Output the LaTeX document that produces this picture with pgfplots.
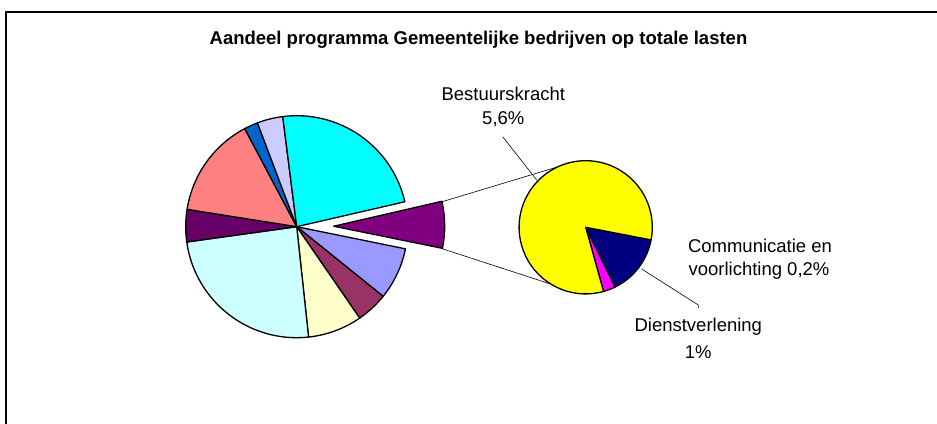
\documentclass[border=0pt]{standalone}
\usepackage{fontspec}
\setmainfont{Liberation Sans}
\usepackage{pgfplots}
\usepackage{pgfplotstable}
\pgfplotsset{compat=1.18}

\definecolor{xlPeri}{HTML}{9999FF}
\definecolor{xlMaroon}{HTML}{993366}
\definecolor{xlLightYellow}{HTML}{FFFFCC}
\definecolor{xlLightCyan}{HTML}{CCFFFF}
\definecolor{xlDarkPurple}{HTML}{660066}
\definecolor{xlSalmon}{HTML}{FF8080}
\definecolor{xlBlue}{HTML}{0066CC}
\definecolor{xlLavender}{HTML}{CCCCFF}
\definecolor{xlCyan}{HTML}{00FFFF}
\definecolor{xlPurple}{HTML}{800080}
\definecolor{xlNavy}{HTML}{000080}
\definecolor{xlMagenta}{HTML}{FF00FF}
\definecolor{xlYellow}{HTML}{FFFF00}

% main pie, clockwise from the periwinkle slice; last row is the "rest" slice
\pgfplotstableread{
value colour        explode
7.6   xlPeri        0
4.6   xlMaroon      0
7.9   xlLightYellow 0
24.5  xlLightCyan   0
4.7   xlDarkPurple  0
14.75 xlSalmon      0
2.0   xlBlue        0
3.75  xlLavender    0
23.4  xlCyan        0
6.8   xlPurple      37
}\mainpie

% secondary pie (the split-off 6.8%)
\pgfplotstableread{
value colour    explode
1.0   xlNavy    0
0.2   xlMagenta 0
5.6   xlYellow  0
}\subpie

% #1 table, #2 cx, #3 cy, #4 radius, #5 start angle, #6 total
\newcommand\drawpie[6]{%
  \pgfplotstablegetrowsof{#1}%
  \pgfmathtruncatemacro\lastrow{\pgfplotsretval-1}%
  \xdef\curang{#5}%
  \foreach \i in {0,...,\lastrow}{%
    \pgfplotstablegetelem{\i}{value}\of{#1}\let\val\pgfplotsretval
    \pgfplotstablegetelem{\i}{colour}\of{#1}\let\col\pgfplotsretval
    \pgfplotstablegetelem{\i}{explode}\of{#1}\let\ex\pgfplotsretval
    \pgfmathsetmacro\a{\curang}%
    \pgfmathsetmacro\b{\curang-\val*360/#6}%
    \pgfmathsetmacro\m{(\a+\b)/2}%
    \filldraw[fill=\col, draw=black, line width=1.3pt, line join=round]
      (axis cs:#2,#3) ++(\m:\ex pt) -- ++(\a:#4pt)
      arc[start angle=\a, end angle=\b, radius=#4pt] -- cycle;
    \xdef\curang{\b}%
  }%
}

\begin{document}
\begin{tikzpicture}[lbl/.style={font=\fontsize{18.5}{22}\selectfont}]
\useasboundingbox (0,0) rectangle (937pt,423pt);
\begin{axis}[
    hide axis, scale only axis,
    at={(0,0)}, anchor=south west,
    width=937pt, height=423pt,
    xmin=0, xmax=937, ymin=0, ymax=423,
    clip=false,
]
% chart frame
\addplot[black, line width=1.3pt] coordinates {(6,-5) (6,411) (945,411)};

% connector lines between the two pies
\addplot[black, line width=0.6pt] coordinates {(441.9,221.2) (557.6,256.1)};
\addplot[black, line width=0.6pt] coordinates {(442.5,174.2) (551.1,138.8)};

\pgfplotsextra{%
  \drawpie{\mainpie}{296.7}{196.3}{111}{-11.5}{100}%
  \drawpie{\subpie}{585.7}{195.7}{66.6}{-10.9}{6.8}%
}

% leader lines
\addplot[black, line width=0.6pt] coordinates {(502.7,286.3) (536.7,243)};
\addplot[black, line width=0.6pt] coordinates {(641.7,154) (698.3,118) (698.3,114.7)};

\node[font=\bfseries\fontsize{18.5}{22}\selectfont] at (axis cs:478.5,383)
  {Aandeel programma Gemeentelijke bedrijven op totale lasten};
\node[lbl] at (axis cs:503.3,329) {Bestuurskracht};
\node[lbl] at (axis cs:503.3,303.7) {5,6\%};
\node[lbl] at (axis cs:760,177) {Communicatie en};
\node[lbl] at (axis cs:759,152.3) {voorlichting 0,2\%};
\node[lbl] at (axis cs:698.3,96.3) {Dienstverlening};
\node[lbl] at (axis cs:698.3,71.3) {1\%};
\end{axis}
\end{tikzpicture}
\end{document}
